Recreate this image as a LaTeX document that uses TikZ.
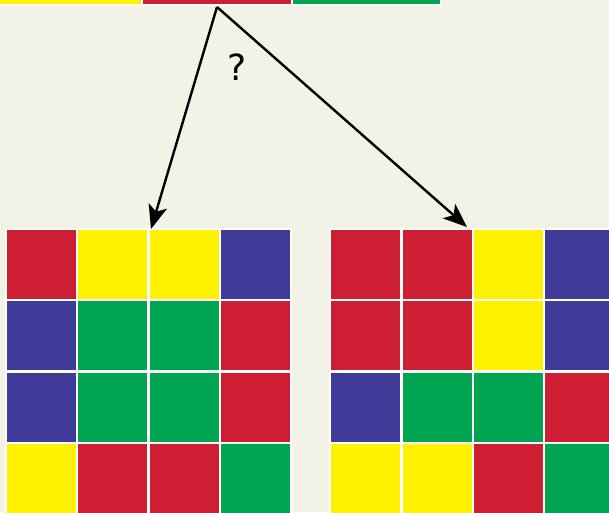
\documentclass[tikz,border=0pt]{standalone}
\usepackage{fontspec}
\setmainfont{DejaVu Sans}
\usetikzlibrary{arrows.meta}
\definecolor{bg}{RGB}{242,242,231}
\definecolor{cR}{RGB}{206,30,52}
\definecolor{cY}{RGB}{255,242,0}
\definecolor{cG}{RGB}{0,165,81}
\definecolor{cB}{RGB}{64,58,153}
\tikzset{
  arr/.style={line width=2.4pt, -{Stealth[length=24pt,width=19pt,inset=6pt]}},
}
\begin{document}
\begin{tikzpicture}[x=1pt,y=-1pt]
\useasboundingbox (0,0) rectangle (609,512);
\fill[bg] (0,0) rectangle (609,512);
% top bar
\fill[white] (0,0) rectangle (441,6);
\fill[cY] (0,0) rectangle (141,4);
\fill[cR] (143,0) rectangle (291,4);
\fill[cG] (293,0) rectangle (440,4);
% left grid
\fill[white] (5,228) rectangle (292.3,520);
\foreach \row [count=\i from 0] in {{cR,cY,cY,cB},{cB,cG,cG,cR},{cB,cG,cG,cR},{cY,cR,cR,cG}}{
  \foreach \c [count=\j from 0] in \row {
    \fill[\c] ({7+71.3*\j},{230+71.3*\i}) rectangle ++(69,69);
  }
}
% right grid
\fill[white] (329.4,228) rectangle (620,520);
\foreach \row [count=\i from 0] in {{cR,cR,cY,cB},{cR,cR,cY,cB},{cB,cG,cG,cR},{cY,cY,cR,cG}}{
  \foreach \c [count=\j from 0] in \row {
    \fill[\c] ({331.4+71.3*\j},{230+71.3*\i}) rectangle ++(69,69);
  }
}
\coordinate (apex) at (217,7);
\coordinate (tl) at (151,229);
\coordinate (tr) at (467,227);
\draw[arr] (apex) -- (tl);
\draw[arr] (apex) -- (tr);
\node[inner sep=0pt] (q) at (237,67) {\fontsize{36}{40}\selectfont ?};
\end{tikzpicture}
\end{document}
